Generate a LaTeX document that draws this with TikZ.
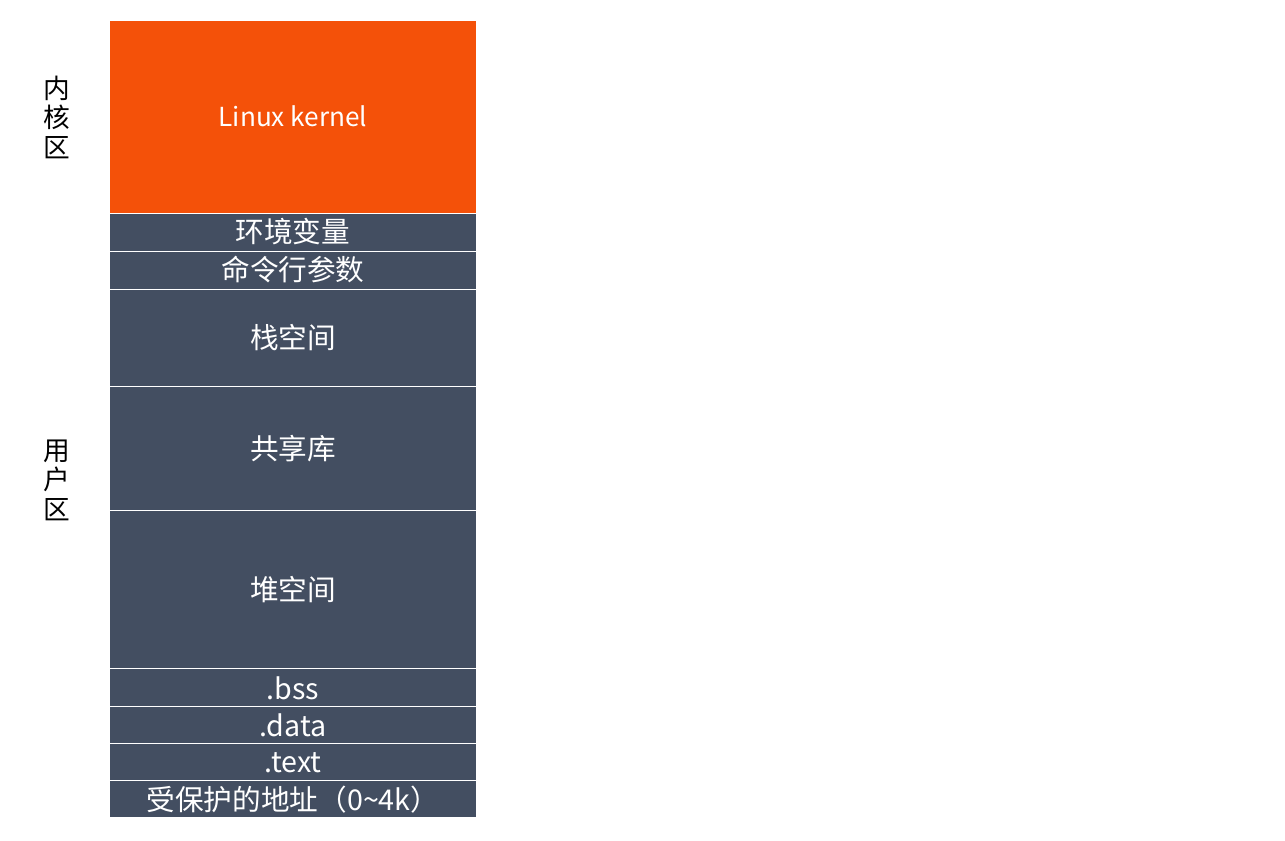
\documentclass[tikz,border=0pt]{standalone}
\usepackage{fontspec}
\setmainfont{Noto Sans CJK SC}
\usepackage{tikz}
\usetikzlibrary{positioning}
\definecolor{kernelorange}{RGB}{244,81,9}
\definecolor{slate}{RGB}{67,78,97}

\begin{document}
\begin{tikzpicture}[x=0.02cm,y=-0.02cm,seg/.style={rectangle,fill=slate,draw=white,line width=0.5pt,
minimum width=7.36cm,inner sep=0pt,outer sep=0pt,text=white,font=\fontsize{16.3}{18}\selectfont},
side/.style={align=center,font=\fontsize{15.2}{16.8}\selectfont}]
\useasboundingbox (0,0) rectangle (1285,841);

% segments
\node[seg,fill=kernelorange,draw=white,minimum height=3.86cm,anchor=north west,font=\fontsize{14.9}{17}\selectfont](kernel) at (109,20){Linux kernel};
\node[seg,below=0 of kernel,minimum height=0.76cm](env){环境变量};
\node[seg,below=0 of env,minimum height=0.76cm](args){命令行参数};
\node[seg,below=0 of args,minimum height=1.96cm](stack){栈空间};
\node[seg,below=0 of stack,minimum height=2.48cm](shlib){共享库};
\node[seg,below=0 of shlib,minimum height=3.16cm](heap){堆空间};
\node[seg,below=0 of heap,minimum height=0.76cm](bss){.bss};
\node[seg,below=0 of bss,minimum height=0.74cm](data){.data};
\node[seg,below=0 of data,minimum height=0.74cm](text){.text};
\node[seg,below=0 of text,minimum height=0.74cm](prot){受保护的地址（0\textasciitilde 4k）};

% area labels
\node[side] (kzone) at (57,117) {内\\核\\区};
\node[side] (uzone) at (57,480) {用\\户\\区};
\end{tikzpicture}
\end{document}
